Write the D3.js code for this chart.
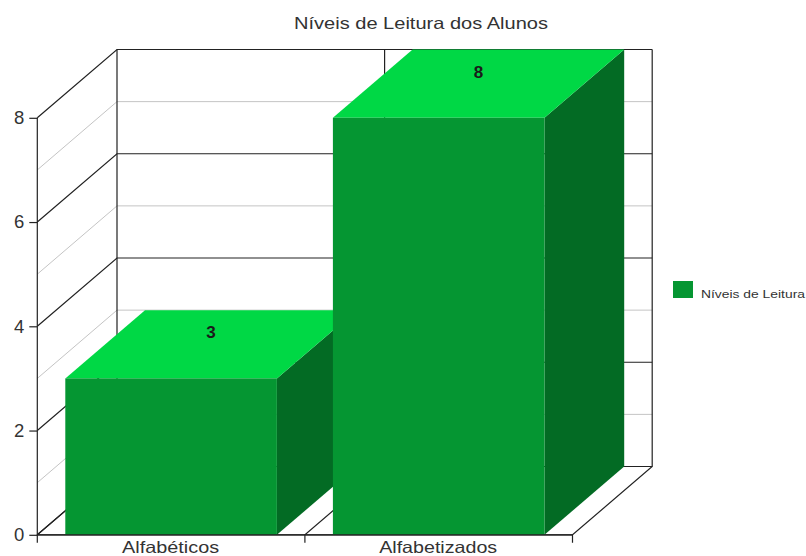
<!DOCTYPE html>
<html><head><meta charset="utf-8">
<script src="https://cdn.jsdelivr.net/npm/d3@7"></script>
<style>html,body{margin:0;padding:0;background:#fff}svg{display:block}text{font-family:"Liberation Sans",Arial,sans-serif}</style>
</head><body><svg id="c" width="806" height="556"></svg>
<script>
const categories = ["Alfabéticos", "Alfabetizados"];
const values = [3, 8];
const majorTicks = [0, 2, 4, 6, 8];
const minorTicks = [1, 3, 5, 7];
const title = "Níveis de Leitura dos Alunos";
const seriesName = "Níveis de Leitura";

const svg = d3.select("#c");
const x = d3.scaleBand().domain(categories).range([37.3, 572.5]).paddingInner(0);
const y = d3.scaleLinear().domain([0, 8]).range([534.8, 117.8]);
const dx = 79.7, dy = -68.3;
const inset = 28;
const colors = {front:"#059632", top:"#00d845", side:"#036b24", major:"#222", minor:"#c4c4c4"};
const line = d3.line();

const wall = svg.append("g");
minorTicks.forEach(t => {
  wall.append("path").attr("fill","none").attr("stroke",colors.minor).attr("stroke-width",1)
    .attr("d", line([[x.range()[0], y(t)], [x.range()[0]+dx, y(t)+dy], [x.range()[1]+dx, y(t)+dy]]));
});
majorTicks.forEach(t => {
  wall.append("path").attr("fill","none").attr("stroke",colors.major).attr("stroke-width",1.2)
    .attr("d", line([[x.range()[0], y(t)], [x.range()[0]+dx, y(t)+dy], [x.range()[1]+dx, y(t)+dy]]));
});
const edges = [x(categories[0]), x(categories[1]), x.range()[1]];
edges.forEach(e => {
  wall.append("path").attr("fill","none").attr("stroke",colors.major).attr("stroke-width",1.2)
    .attr("d", line([[e, y(0)+8], [e, y(0)], [e+dx, y(0)+dy], [e+dx, y(8)+dy]]));
});
wall.append("path").attr("fill","none").attr("stroke",colors.major).attr("stroke-width",1.2)
  .attr("d", line([[x.range()[0], y(8)], [x.range()[0], y(0)], [x.range()[1], y(0)]]));

const axis = svg.append("g").attr("transform",`translate(${x.range()[0]},0)`)
  .call(d3.axisLeft(y).tickValues(majorTicks).tickSize(8).tickPadding(5).tickFormat(d3.format("d")));
axis.select(".domain").remove();
axis.selectAll("line").attr("stroke",colors.major).attr("stroke-width",1.2);
axis.selectAll("text").attr("font-size",18.5).attr("fill","#333").style("font-family",'"Liberation Sans",Arial,sans-serif');

const bars = svg.append("g").selectAll("g").data(categories.map((c,i)=>({c,v:values[i]}))).join("g");
bars.each(function(d){
  const g = d3.select(this);
  const l = x(d.c)+inset, r = x(d.c)+x.bandwidth()-inset, t = y(d.v), b = y(0);
  g.append("path").attr("fill",colors.side).attr("d",line([[r,t],[r+dx,t+dy],[r+dx,b+dy],[r,b]])+"Z");
  g.append("path").attr("fill",colors.top).attr("d",line([[l,t],[l+dx,t+dy],[r+dx,t+dy],[r,t]])+"Z");
  g.append("rect").attr("x",l).attr("y",t).attr("width",r-l).attr("height",b-t).attr("fill",colors.front);
  g.append("text").attr("x",(l+r)/2+dx/2).attr("y",t+dy/2-6).attr("text-anchor","middle")
    .attr("font-size",17).attr("font-weight","bold").attr("fill","#1a1a1a").text(d.v);
});

svg.append("path").attr("fill","none").attr("stroke",colors.major).attr("stroke-width",1.2)
  .attr("d", line([[x.range()[0], y(0)], [x.range()[1], y(0)]]));

const labelWidths = [97, 118];
svg.append("g").selectAll("text").data(categories).join("text")
  .attr("x",d=>x(d)+x.bandwidth()/2-0.5).attr("y",552.5).attr("text-anchor","middle")
  .attr("font-size",16.5).attr("fill","#333")
  .attr("textLength",(d,i)=>labelWidths[i]).attr("lengthAdjust","spacingAndGlyphs").text(d=>d);

svg.append("text").attr("x",421).attr("y",29).attr("text-anchor","middle")
  .attr("font-size",16.5).attr("fill","#333")
  .attr("textLength",254).attr("lengthAdjust","spacingAndGlyphs").text(title);

svg.append("rect").attr("x",673).attr("y",281).attr("width",20).attr("height",17).attr("fill",colors.front);
svg.append("text").attr("x",701).attr("y",298).attr("font-size",11.5).attr("fill","#333")
  .attr("textLength",104).attr("lengthAdjust","spacingAndGlyphs").text(seriesName);
</script></body></html>
